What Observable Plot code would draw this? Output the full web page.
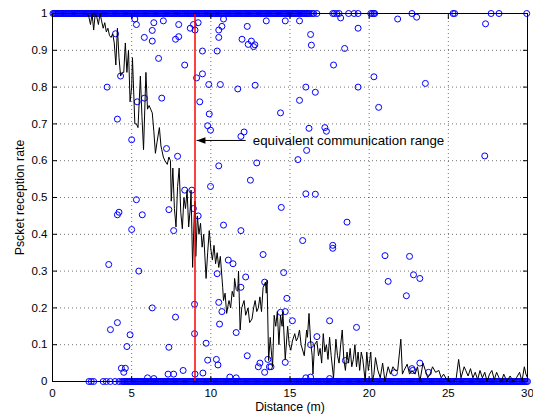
<!DOCTYPE html>
<html>
<head>
<meta charset="utf-8">
<script src="https://cdn.jsdelivr.net/npm/d3@7"></script>
<script src="https://cdn.jsdelivr.net/npm/@observablehq/plot@0.6"></script>
<style>
  html, body { margin: 0; padding: 0; background: #fff; }
  #chart { width: 533px; height: 418px; }
</style>
</head>
<body>
<div id="chart"></div>
<script>
// ---- tick labels ----
const xTicks = [0, 5, 10, 15, 20, 25, 30];
const yTicks = [0, 0.1, 0.2, 0.3, 0.4, 0.5, 0.6, 0.7, 0.8, 0.9, 1];
const xLabel = "Distance (m)";
const yLabel = "Pscket reception rate";

// ---- black line: average reception rate vs distance ----
const lineX = [0, 1, 2.2, 2.3, 2.4, 2.5, 2.6, 2.7, 2.8, 2.9, 3.0, 3.1, 3.2, 3.3, 3.4, 3.5, 3.6, 3.7, 3.8, 3.9, 4.0, 4.1, 4.2, 4.3, 4.4, 4.5, 4.6, 4.7, 4.8, 4.9, 5.0, 5.05, 5.2, 5.3, 5.4, 5.55, 5.65, 5.75, 5.9, 6.0, 6.1, 6.2, 6.3, 6.4, 6.5, 6.6, 6.75, 6.85, 6.9, 7.0, 7.1, 7.25, 7.35, 7.45, 7.5, 7.6, 7.7, 7.8, 7.9, 8.0, 8.1, 8.2, 8.3, 8.4, 8.5, 8.6, 8.7, 8.75, 8.85, 8.95, 9.0, 9.05, 9.15, 9.25, 9.35, 9.45, 9.55, 9.7, 9.8, 9.9, 10.0, 10.1, 10.2, 10.3, 10.4, 10.5, 10.6, 10.75, 10.8, 10.9, 11.0, 11.1, 11.15, 11.25, 11.35, 11.45, 11.5, 11.6, 11.7, 11.75, 11.85, 11.95, 12.1, 12.2, 12.35, 12.45, 12.6, 12.7, 12.8, 12.9, 13.0, 13.1, 13.2, 13.3, 13.45, 13.5, 13.55, 13.65, 13.75, 13.9, 14.0, 14.1, 14.2, 14.3, 14.4, 14.5, 14.55, 14.7, 14.85, 14.95, 15.05, 15.15, 15.3, 15.4, 15.5, 15.6, 15.7, 15.9, 16.05, 16.1, 16.2, 16.3, 16.4, 16.45, 16.55, 16.7, 16.8, 16.9, 17.0, 17.1, 17.2, 17.3, 17.4, 17.5, 17.6, 17.75, 17.9, 18.0, 18.1, 18.2, 18.3, 18.4, 18.5, 18.6, 18.7, 18.8, 18.9, 19.0, 19.1, 19.2, 19.3, 19.4, 19.5, 19.6, 19.75, 19.85, 19.95, 20.1, 20.2, 20.3, 20.4, 20.55, 20.7, 20.85, 21.0, 21.2, 21.35, 21.5, 21.65, 21.8, 22.0, 22.1, 22.2, 22.4, 22.55, 22.7, 22.9, 23.05, 23.2, 23.4, 23.55, 23.7, 23.85, 24.0, 24.2, 24.4, 24.55, 24.7, 24.9, 25.1, 25.3, 25.5, 25.65, 25.8, 26.0, 26.1, 26.25, 26.4, 26.55, 26.7, 26.85, 27.0, 27.15, 27.3, 27.45, 27.6, 27.75, 27.9, 28.05, 28.2, 28.35, 28.5, 28.7, 28.9, 29.1, 29.3, 29.5, 29.65, 29.8, 29.9, 30];
const lineY = [1, 1, 1, 0.99, 0.97, 1, 0.955, 1, 0.99, 0.97, 1, 0.98, 0.96, 0.975, 0.95, 0.96, 0.94, 0.935, 0.945, 0.92, 0.86, 0.96, 0.88, 0.83, 0.84, 0.84, 0.92, 0.84, 0.90, 0.76, 0.80, 0.88, 0.70, 0.70, 0.69, 0.83, 0.72, 0.63, 0.84, 0.74, 0.75, 0.74, 0.73, 0.68, 0.62, 0.65, 0.69, 0.64, 0.63, 0.61, 0.60, 0.59, 0.61, 0.60, 0.49, 0.58, 0.47, 0.42, 0.53, 0.58, 0.46, 0.415, 0.50, 0.47, 0.52, 0.42, 0.47, 0.52, 0.31, 0.45, 0.49, 0.34, 0.45, 0.40, 0.43, 0.365, 0.40, 0.28, 0.35, 0.41, 0.36, 0.33, 0.37, 0.32, 0.35, 0.31, 0.34, 0.255, 0.22, 0.24, 0.185, 0.21, 0.22, 0.20, 0.245, 0.23, 0.28, 0.25, 0.245, 0.30, 0.14, 0.20, 0.22, 0.18, 0.20, 0.16, 0.17, 0.20, 0.22, 0.19, 0.20, 0.23, 0.19, 0.255, 0.27, 0.24, 0.275, 0.057, 0.12, 0.04, 0.18, 0.15, 0.19, 0.10, 0.18, 0.15, 0.19, 0.06, 0.15, 0.10, 0.085, 0.11, 0.13, 0.11, 0.12, 0.14, 0.10, 0.07, 0.14, 0.12, 0.185, 0.11, 0.07, 0.02, 0.10, 0.11, 0.07, 0.09, 0.05, 0.13, 0.08, 0.10, 0.06, 0.12, 0.07, 0.01, 0.115, 0.07, 0.05, 0.10, 0.14, 0.06, 0.03, 0.08, 0.05, 0.09, 0.04, 0.06, 0.10, 0.04, 0.08, 0.03, 0.08, 0.06, 0.0, 0.08, 0.03, 0.08, 0.0, 0.02, 0.065, 0.03, 0.01, 0.05, 0.0, 0.04, 0.02, 0.04, 0.03, 0.03, 0.115, 0.02, 0.03, 0.047, 0.02, 0.03, 0.02, 0.04, 0.0, 0.05, 0.03, 0.01, 0.02, 0.04, 0.025, 0.03, 0.01, 0.02, 0.005, 0.0, 0.0, 0.01, 0.06, 0.01, 0.04, 0.03, 0.015, 0.035, 0.01, 0.025, 0.005, 0.03, 0.01, 0.025, 0.0, 0.02, 0.03, 0.005, 0.025, 0.01, 0.0, 0.02, 0.0, 0.015, 0.0, 0.01, 0.025, 0.0, 0.04, 0.02, 0.01];

// ---- blue circles: individual link measurements ----
// links with reception rate 1 (a dense run up to ~16.5 m, then sparser)
const topX = [0.03, 0.1, 0.16, 0.24, 0.31, 0.37, 0.45, 0.52, 0.58, 0.66, 0.73, 0.8, 0.86, 0.94, 1.01, 1.07, 1.15, 1.22, 1.28, 1.36, 1.43, 1.5, 1.56, 1.64, 1.71, 1.77, 1.85, 1.92, 1.98, 2.06, 2.13, 2.2, 2.26, 2.34, 2.41, 2.47, 2.55, 2.62, 2.68, 2.76, 2.83, 2.9, 2.96, 3.04, 3.11, 3.17, 3.25, 3.32, 3.38, 3.46, 3.53, 3.6, 3.66, 3.74, 3.81, 3.87, 3.95, 4.02, 4.08, 4.16, 4.23, 4.3, 4.36, 4.44, 4.51, 4.57, 4.65, 4.72, 4.78, 4.86, 4.93, 5.0, 5.06, 5.14, 5.21, 5.27, 5.35, 5.42, 5.48, 5.56, 5.63, 5.7, 5.76, 5.84, 5.91, 5.97, 6.05, 6.12, 6.18, 6.26, 6.33, 6.4, 6.46, 6.54, 6.61, 6.67, 6.75, 6.82, 6.88, 6.96, 7.03, 7.1, 7.16, 7.24, 7.31, 7.37, 7.45, 7.52, 7.58, 7.66, 7.73, 7.8, 7.86, 7.94, 8.01, 8.07, 8.15, 8.22, 8.28, 8.36, 8.43, 8.5, 8.56, 8.64, 8.71, 8.77, 8.85, 8.92, 8.98, 9.06, 9.13, 9.2, 9.26, 9.34, 9.41, 9.47, 9.55, 9.62, 9.68, 9.76, 9.83, 9.9, 9.96, 10.04, 10.11, 10.17, 10.25, 10.32, 10.38, 10.46, 10.53, 10.6, 10.66, 10.74, 10.81, 10.87, 10.95, 11.02, 11.08, 11.16, 11.23, 11.3, 11.36, 11.44, 11.51, 11.57, 11.65, 11.72, 11.78, 11.86, 11.93, 12.0, 12.06, 12.14, 12.21, 12.27, 12.35, 12.42, 12.48, 12.56, 12.63, 12.7, 12.76, 12.84, 12.91, 12.97, 13.05, 13.12, 13.18, 13.26, 13.33, 13.4, 13.46, 13.54, 13.61, 13.67, 13.75, 13.82, 13.88, 13.96, 14.03, 14.1, 14.16, 14.24, 14.31, 14.37, 14.45, 14.52, 14.58, 14.66, 14.73, 14.8, 14.86, 14.94, 15.01, 15.07, 15.15, 15.22, 15.28, 15.36, 15.43, 15.5, 15.56, 15.64, 15.71, 15.77, 15.85, 15.92, 15.98, 16.06, 16.13, 16.2, 16.3, 16.42, 16.5, 16.7, 17.7, 17.8, 17.95, 18.1, 18.7, 19.05, 19.3, 20.1, 20.2, 20.3, 20.35, 22.7, 25.3, 25.4, 27.7, 28.2, 29.95];
// links with reception rate 0 (sparse below 4.4 m, dense beyond)
const bottomX = [2.3, 2.45, 2.6, 3.2, 3.4, 3.65, 3.95, 4.2, 4.37, 4.45, 4.52, 4.58, 4.66, 4.73, 4.79, 4.87, 4.94, 5.0, 5.08, 5.15, 5.21, 5.29, 5.36, 5.42, 5.5, 5.57, 5.63, 5.71, 5.78, 5.84, 5.92, 5.99, 6.05, 6.13, 6.2, 6.26, 6.34, 6.41, 6.47, 6.55, 6.62, 6.68, 6.76, 6.83, 6.89, 6.97, 7.04, 7.1, 7.18, 7.25, 7.31, 7.39, 7.46, 7.52, 7.6, 7.67, 7.73, 7.81, 7.88, 7.94, 8.02, 8.09, 8.15, 8.23, 8.3, 8.36, 8.44, 8.51, 8.57, 8.65, 8.72, 8.78, 8.86, 8.93, 8.99, 9.07, 9.14, 9.2, 9.28, 9.35, 9.41, 9.49, 9.56, 9.62, 9.7, 9.77, 9.83, 9.91, 9.98, 10.04, 10.12, 10.19, 10.25, 10.33, 10.4, 10.46, 10.54, 10.61, 10.67, 10.75, 10.82, 10.88, 10.96, 11.03, 11.09, 11.17, 11.24, 11.3, 11.38, 11.45, 11.51, 11.59, 11.66, 11.72, 11.8, 11.87, 11.93, 12.01, 12.08, 12.14, 12.22, 12.29, 12.35, 12.43, 12.5, 12.56, 12.64, 12.71, 12.77, 12.85, 12.92, 12.98, 13.06, 13.13, 13.19, 13.27, 13.34, 13.4, 13.48, 13.55, 13.61, 13.69, 13.76, 13.82, 13.9, 13.97, 14.03, 14.11, 14.18, 14.24, 14.32, 14.39, 14.45, 14.53, 14.6, 14.66, 14.74, 14.81, 14.87, 14.95, 15.02, 15.08, 15.16, 15.23, 15.29, 15.37, 15.44, 15.5, 15.58, 15.65, 15.71, 15.79, 15.86, 15.92, 16.0, 16.07, 16.13, 16.21, 16.28, 16.34, 16.42, 16.49, 16.55, 16.63, 16.7, 16.76, 16.84, 16.91, 16.97, 17.05, 17.12, 17.18, 17.26, 17.33, 17.39, 17.47, 17.54, 17.6, 17.68, 17.75, 17.81, 17.89, 17.96, 18.02, 18.1, 18.17, 18.23, 18.31, 18.38, 18.44, 18.52, 18.59, 18.65, 18.73, 18.8, 18.86, 18.94, 19.01, 19.07, 19.15, 19.22, 19.28, 19.36, 19.43, 19.49, 19.57, 19.64, 19.7, 19.78, 19.85, 19.91, 19.99, 20.06, 20.12, 20.2, 20.27, 20.33, 20.41, 20.48, 20.54, 20.62, 20.69, 20.75, 20.83, 20.9, 20.96, 21.04, 21.11, 21.17, 21.25, 21.32, 21.38, 21.46, 21.53, 21.59, 21.67, 21.74, 21.8, 21.88, 21.95, 22.01, 22.09, 22.16, 22.22, 22.3, 22.37, 22.43, 22.51, 22.58, 22.64, 22.72, 22.79, 22.85, 22.93, 23.0, 23.06, 23.14, 23.21, 23.27, 23.35, 23.42, 23.48, 23.56, 23.63, 23.69, 23.77, 23.84, 23.9, 23.98, 24.05, 24.11, 24.19, 24.26, 24.32, 24.4, 24.47, 24.53, 24.61, 24.68, 24.74, 24.82, 24.89, 24.95, 25.03, 25.1, 25.16, 25.24, 25.31, 25.37, 25.45, 25.52, 25.58, 25.66, 25.73, 25.79, 25.87, 25.94, 26.0, 26.08, 26.15, 26.21, 26.29, 26.36, 26.42, 26.5, 26.57, 26.63, 26.71, 26.78, 26.84, 26.92, 26.99, 27.05, 27.13, 27.2, 27.26, 27.34, 27.41, 27.47, 27.55, 27.62, 27.68, 27.76, 27.83, 27.89, 27.97, 28.04, 28.1, 28.18, 28.25, 28.31, 28.39, 28.46, 28.52, 28.6, 28.67, 28.73, 28.81, 28.88, 28.94, 29.02, 29.09, 29.15, 29.23, 29.3, 29.36, 29.44, 29.51, 29.57, 29.65, 29.72, 29.78, 29.86, 29.93, 30.0];
// links with intermediate reception rate
const midX = [3.98, 4.3, 3.45, 4.1, 5.0, 5.3, 5.3, 5.2, 5.35, 5.8, 6.3, 6.3, 6.4, 5.8, 6.7, 6.9, 7.0, 7.2, 7.77, 7.97, 7.97, 7.9, 8.35, 8.35, 8.8, 8.7, 8.9, 9.0, 9.2, 9.1, 9.3, 9.47, 9.47, 9.8, 9.9, 9.87, 9.98, 9.98, 10.4, 10.5, 10.5, 10.5, 10.6, 10.7, 10.8, 11.7, 11.9, 12.1, 11.97, 12.3, 12.36, 12.56, 12.78, 12.7, 12.8, 12.5, 12.9, 13.5, 14.7, 15.6, 16.3, 16.35, 18.2, 18.45, 17.75, 19.3, 20.3, 19.3, 20.6, 21.8, 23.0, 23.55, 27.35, 27.3, 16.0, 16.6, 15.6, 14.4, 16.2, 17.2, 17.3, 16.05, 15.5, 16.0, 16.6, 14.45, 7.35, 7.65, 8.9, 9.2, 4.1, 4.2, 5.67, 5.0, 3.55, 5.45, 3.66, 4.1, 6.3, 4.9, 4.7, 7.35, 7.77, 8.97, 8.97, 10.4, 10.5, 10.7, 10.55, 10.8, 11.1, 11.4, 11.9, 11.9, 11.6, 12.2, 13.3, 13.4, 9.7, 9.8, 10.35, 10.45, 9.5, 8.25, 9.0, 7.65, 7.3, 4.35, 4.6, 4.5, 12.3, 13.0, 13.1, 13.4, 13.6, 13.7, 18.6, 15.8, 17.7, 17.7, 21.0, 22.55, 14.6, 21.2, 22.8, 23.2, 22.35, 14.8, 14.4, 14.7, 15.15, 17.5, 19.2, 16.7, 16.3, 13.8, 14.7, 18.5, 21.6, 22.7, 22.75, 23.2, 23.75, 11.2, 11.6, 6.0, 6.4, 16.0, 16.3, 17.5];
const midY = [0.945, 0.83, 0.80, 0.713, 0.657, 0.494, 0.97, 0.985, 0.76, 0.935, 0.954, 0.925, 0.975, 0.77, 0.878, 0.77, 0.98, 0.633, 0.93, 0.937, 0.97, 0.612, 0.86, 0.52, 0.52, 0.96, 0.97, 0.955, 0.975, 0.825, 0.76, 0.836, 0.898, 0.695, 0.727, 0.807, 0.683, 0.53, 0.898, 0.955, 0.935, 0.586, 0.807, 0.965, 0.985, 0.795, 0.666, 0.678, 0.93, 0.965, 0.916, 0.925, 0.915, 0.91, 0.805, 0.547, 0.594, 0.98, 0.98, 0.98, 0.943, 0.914, 0.988, 0.905, 0.86, 0.96, 0.828, 0.80, 0.745, 0.985, 0.99, 0.81, 0.972, 0.613, 0.80, 0.786, 0.764, 0.73, 0.688, 0.69, 0.68, 0.628, 0.603, 0.51, 0.509, 0.473, 0.467, 0.41, 0.47, 0.45, 0.453, 0.46, 0.453, 0.413, 0.318, 0.30, 0.141, 0.16, 0.20, 0.127, 0.095, 0.093, 0.175, 0.21, 0.13, 0.293, 0.215, 0.19, 0.156, 0.425, 0.33, 0.32, 0.41, 0.256, 0.133, 0.284, 0.345, 0.27, 0.104, 0.058, 0.06, 0.045, 0.023, 0.03, 0.02, 0.02, 0.02, 0.036, 0.036, 0.025, 0.07, 0.04, 0.05, 0.025, 0.06, 0.04, 0.433, 0.383, 0.37, 0.362, 0.342, 0.34, 0.296, 0.272, 0.29, 0.28, 0.233, 0.226, 0.188, 0.19, 0.165, 0.165, 0.147, 0.122, 0.10, 0.04, 0.052, 0.057, 0.024, 0.035, 0.03, 0.05, 0.025, 0.012, 0.01, 0.01, 0.008, 0.01, 0.012, 0.008];

// ---- annotation ----
const rangeX = [9];
const annoText = ["equivalent communication range"];
const annoFromX = [12.2];
const annoToX = [9.1];
const annoY = [0.655];
const annoTextX = [12.65];

// ---- build tables ----
const points = [
  ...topX.map(x => ({x, y: 1})),
  ...bottomX.map(x => ({x, y: 0})),
  ...midX.map((x, i) => ({x, y: midY[i]}))
];
const lineData = lineX.map((x, i) => ({x, y: lineY[i]}));
const anno = annoText.map((t, i) => ({t, x1: annoFromX[i], x2: annoToX[i], y: annoY[i], tx: annoTextX[i]}));

// left-pointing filled arrowhead, tip at the anchor point
const arrowHead = {
  draw(ctx, size) {
    const s = Math.sqrt(size);
    ctx.moveTo(0, 0);
    ctx.lineTo(s, -0.36 * s);
    ctx.lineTo(s, 0.36 * s);
    ctx.closePath();
  }
};

const fmtY = d => String(+d.toFixed(1));
const FONT = "'Liberation Sans', Arial, Helvetica, sans-serif";

const chart = Plot.plot({
  width: 533,
  height: 418,
  marginLeft: 52,
  marginRight: 6,
  marginTop: 13,
  marginBottom: 37,
  style: {fontFamily: FONT, fontSize: "11.5px", background: "#fff", color: "#000", overflow: "visible"},
  x: {domain: [0, 30]},
  y: {domain: [0, 1]},
  marks: [
    Plot.gridX(xTicks.slice(1, -1), {stroke: "#000", strokeOpacity: 0.55, strokeDasharray: "1,3"}),
    Plot.gridY(yTicks.slice(1, -1), {stroke: "#000", strokeOpacity: 0.55, strokeDasharray: "1,3"}),
    Plot.dot(points, {x: "x", y: "y", r: 3, stroke: "#0000ff", strokeWidth: 1, fill: "none"}),
    Plot.line(lineData, {x: "x", y: "y", stroke: "#000", strokeWidth: 1}),
    Plot.ruleX(rangeX, {y1: 0, y2: 1, stroke: "#ff0000", strokeWidth: 1.5}),
    Plot.link(anno, {x1: "x1", x2: "x2", y1: "y", y2: "y", stroke: "#000", strokeWidth: 1}),
    Plot.dot(anno, {x: "x2", y: "y", symbol: arrowHead, r: 5, fill: "#000", stroke: "none"}),
    Plot.text(anno, {x: "tx", y: "y", text: "t", textAnchor: "start", fontSize: 13.3, fill: "#000"}),
    Plot.frame({stroke: "#000", strokeWidth: 1}),
    // inward tick marks on all four sides
    Plot.axisX(xTicks, {anchor: "bottom", tickSize: -5, tickFormat: () => "", label: null}),
    Plot.axisX(xTicks, {anchor: "top", tickSize: -5, tickFormat: () => "", label: null}),
    Plot.axisY(yTicks, {anchor: "left", tickSize: -5, tickFormat: () => "", label: null}),
    Plot.axisY(yTicks, {anchor: "right", tickSize: -5, tickFormat: () => "", label: null}),
    // tick labels
    Plot.axisX(xTicks, {anchor: "bottom", tickSize: 0, tickPadding: 7, tickFormat: d => String(d), label: null, fontSize: 11.5}),
    Plot.axisY(yTicks, {anchor: "left", tickSize: 0, tickPadding: 5, tickFormat: fmtY, label: null, fontSize: 11.5}),
    // axis titles
    Plot.text([xLabel], {frameAnchor: "bottom", dy: 26, text: d => d, textAnchor: "middle", lineAnchor: "middle", fontSize: 12.3, fill: "#000"}),
    Plot.text([yLabel], {frameAnchor: "left", dx: -32, rotate: -90, text: d => d, textAnchor: "middle", lineAnchor: "middle", fontSize: 12.3, fill: "#000"})
  ]
});
document.getElementById("chart").appendChild(chart);
</script>
</body>
</html>
